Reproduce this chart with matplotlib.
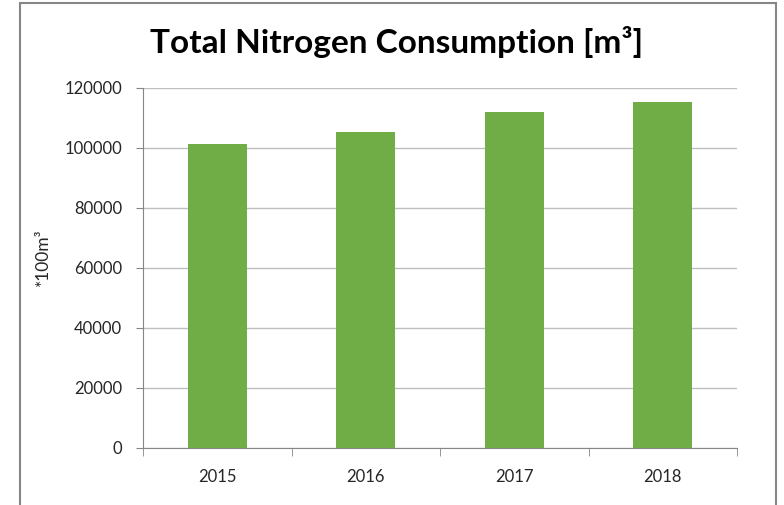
import matplotlib.pyplot as plt
from matplotlib.patches import Rectangle
import numpy as np

# Values
years = ['2015', '2016', '2017', '2018']
consumption = [101300, 105300, 112000, 115300]
y_ticks = [0, 20000, 40000, 60000, 80000, 100000, 120000]

BAR_COLOR = '#70AD47'
GRID_COLOR = '#BFBFBF'
AXIS_COLOR = '#868686'
TEXT_COLOR = '#262626'

plt.rcParams['font.family'] = ['Lato', 'DejaVu Sans']

fig = plt.figure(figsize=(7.84, 5.05), dpi=100)
ax = fig.add_axes([143 / 784, 1 - 448 / 505, (737 - 143) / 784, (448 - 88) / 505])

x = np.arange(len(years))
ax.bar(x, consumption, width=0.4, color=BAR_COLOR, zorder=3)

ax.set_xlim(-0.5, len(years) - 0.5)
ax.set_ylim(0, 120000)
ax.set_yticks(y_ticks)
ax.set_yticklabels([str(v) for v in y_ticks])
ax.set_xticks(x)
ax.set_xticklabels(years)

# category boundary ticks on the x axis
ax.set_xticks(np.arange(-0.5, len(years)), minor=True)
ax.tick_params(axis='x', which='major', length=0, pad=15, labelsize=12,
               labelcolor=TEXT_COLOR)
ax.tick_params(axis='x', which='minor', length=6, color=AXIS_COLOR,
               direction='out')
ax.tick_params(axis='y', length=5, color=AXIS_COLOR, pad=10, labelsize=12,
               labelcolor=TEXT_COLOR)

ax.grid(axis='y', color=GRID_COLOR, linewidth=1, zorder=0)
for side in ['top', 'right']:
    ax.spines[side].set_visible(False)
for side in ['left', 'bottom']:
    ax.spines[side].set_color(AXIS_COLOR)

ax.set_ylabel('*100m³', fontsize=12.5, color=TEXT_COLOR)
ax.yaxis.set_label_coords((51 - 143) / 594, (448 - 257) / 360)

fig.text(397 / 784, 1 - 42 / 505, 'Total Nitrogen Consumption [m³]',
         ha='center', va='center', fontsize=24, fontweight='bold')

# chart frame (bottom edge is outside the picture)
fig.patches.append(Rectangle((20 / 784, -0.1), (776 - 20) / 784, 1.1 - 3 / 505,
                             transform=fig.transFigure, fill=False,
                             edgecolor=AXIS_COLOR, linewidth=1.5))

fig.savefig('out.png', dpi=100)
